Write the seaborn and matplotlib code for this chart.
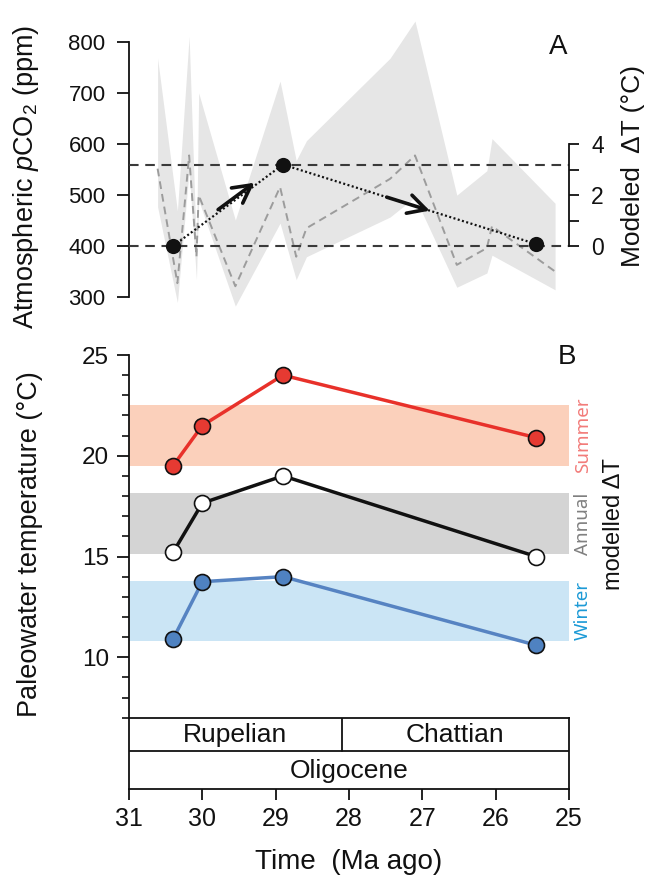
import numpy as np
import pandas as pd
import matplotlib
matplotlib.use("Agg")
import matplotlib.pyplot as plt
import matplotlib.transforms as mtransforms
import seaborn as sns

# ---------------- data ----------------
# Panel A: proxy CO2 envelope (ppm) vs age (Ma)
co2_age = [30.61, 30.34, 30.18, 30.08, 30.05, 29.55, 28.94, 28.72, 28.58, 27.44, 27.10, 26.53, 26.12, 26.05, 25.19]
co2_median = [552, 327, 578, 379, 500, 321, 516, 379, 435, 532, 578, 363, 396, 439, 350]
co2_upper = [769, 469, 812, 392, 701, 451, 724, 568, 607, 769, 842, 500, 548, 611, 484]
co2_lower = [477, 289, 548, 334, 490, 282, 445, 334, 379, 457, 496, 319, 347, 382, 314]

# Modeled CO2 scenario points
model_age = [30.4, 28.9, 25.45]
model_co2 = [400, 560, 404]

# Panel B: paleowater temperatures
ages_b = [30.4, 30.0, 28.9, 25.45]
summer = [19.5, 21.5, 24.0, 20.9]
annual = [15.2, 17.65, 19.0, 15.0]
winter = [10.9, 13.75, 14.0, 10.6]

# modelled delta-T ranges
summer_band = (19.5, 22.5)
annual_band = (15.1, 18.15)
winter_band = (10.8, 13.8)
band_labels = ["Summer", "Annual", "Winter"]

# stratigraphy
stage_names = ["Rupelian", "Chattian"]
stage_bounds = [31.0, 28.1, 25.0]
epoch_name = "Oligocene"

x_ticks = [31, 30, 29, 28, 27, 26, 25]
co2_ticks = [300, 400, 500, 600, 700, 800]
dT_ticks = [0, 1, 2, 3, 4]
dT_ticklabels = ["0", "", "2", "", "4"]
temp_major = [10, 15, 20, 25]

# ---------------- style ----------------
sns.set_theme(style="ticks")
plt.rcParams["font.family"] = ["Liberation Sans", "DejaVu Sans"]
plt.rcParams["mathtext.fontset"] = "custom"
plt.rcParams["mathtext.rm"] = "Liberation Sans"
plt.rcParams["mathtext.it"] = "Liberation Sans:italic"
plt.rcParams["axes.linewidth"] = 1.3
plt.rcParams["axes.edgecolor"] = "#111111"

W, H = 648, 881
fig = plt.figure(figsize=(W / 100, H / 100), dpi=100)


def rect(l, t, r, b):
    return [l / W, 1 - b / H, (r - l) / W, (b - t) / H]


# ---------------- Panel A ----------------
ax_a = fig.add_axes(rect(129, 17, 569, 312.2))
ax_a.set_xlim(31, 25)
ax_a.set_ylim(270, 850)
ax_a.patch.set_alpha(0)

ax_a.fill_between(co2_age, co2_lower, co2_upper, color="#E6E6E6", lw=0, zorder=1)
dfm = pd.DataFrame({"age": co2_age, "co2": co2_median})
sns.lineplot(data=dfm, x="age", y="co2", ax=ax_a, sort=False, color="#9C9C9C",
             lw=1.4, zorder=2)
ax_a.lines[-1].set_dashes((4, 2.6))

for v in (model_co2[0], model_co2[1]):
    ax_a.axhline(v, color="#3A3A3A", lw=1.5, dashes=(4.6, 3.2), zorder=3)

dfp = pd.DataFrame({"age": model_age, "co2": model_co2})
sns.lineplot(data=dfp, x="age", y="co2", ax=ax_a, sort=False, color="#111111",
             lw=1.6, zorder=4)
ax_a.lines[-1].set_dashes((0.9, 1.1))
sns.scatterplot(data=dfp, x="age", y="co2", ax=ax_a, color="#111111", s=120,
                edgecolor="#111111", linewidth=0, zorder=5)


def seg_point(i, f, dy=0.0):
    x = model_age[i] + f * (model_age[i + 1] - model_age[i])
    y = model_co2[i] + f * (model_co2[i + 1] - model_co2[i]) + dy
    return x, y


for i, f0, f1, dy in [(0, 0.41, 0.74, 6), (1, 0.41, 0.58, 0)]:
    p0 = seg_point(i, f0, dy)
    p1 = seg_point(i, f1, dy)
    ax_a.annotate("", xy=p1, xytext=p0,
                  arrowprops=dict(arrowstyle="->,head_length=0.75,head_width=0.4",
                                  lw=2.6, color="#111111", mutation_scale=17,
                                  shrinkA=0, shrinkB=0), zorder=6)

for s in ("top", "right", "bottom"):
    ax_a.spines[s].set_visible(False)
ax_a.spines["left"].set_bounds(300, 800)
ax_a.set_yticks(co2_ticks)
ax_a.set_xticks([])
ax_a.tick_params(axis="y", direction="out", length=8.4, width=1.3, labelsize=16,
                 pad=8.5, colors="#111111")
ax_a.set_xlabel("")
ax_a.set_ylabel("")

ax_r = ax_a.twinx()
ax_r.set_ylim((270 - 400) / 50, (850 - 400) / 50)
for s in ("top", "left", "bottom"):
    ax_r.spines[s].set_visible(False)
ax_r.spines["right"].set_bounds(0, 4)
ax_r.set_yticks(dT_ticks)
ax_r.set_yticklabels(dT_ticklabels)
ax_r.tick_params(axis="y", direction="out", length=7, width=1.3, labelsize=16.5,
                 pad=9, colors="#111111")

fig.text(26 / W, 1 - 177 / H, r"Atmospheric $\mathit{p}$CO$_2$ (ppm)", rotation=90,
         ha="center", va="center", fontsize=19.5, color="#111111")
fig.text(633 / W, 1 - 166 / H, "Modeled  ΔT (°C)", rotation=90,
         ha="center", va="center", fontsize=19, color="#111111")
fig.text(558 / W, 1 - 47 / H, "A", ha="center", va="center", fontsize=20, color="#111111")

# ---------------- Panel B ----------------
ax_b = fig.add_axes(rect(129, 355, 569, 717.7))
ax_b.set_xlim(31, 25)
ax_b.set_ylim(7, 25)

band_colors = ["#FBD0BB", "#D4D4D4", "#CBE5F5"]
text_colors = ["#F27B79", "#808080", "#1C9AD6"]
for band, c in zip([summer_band, annual_band, winter_band], band_colors):
    ax_b.axhspan(band[0], band[1], color=c, lw=0, zorder=1)

series = [
    (summer, "#E8312A", "#E63A32"),
    (annual, "#111111", "#FFFFFF"),
    (winter, "#5683C2", "#4F82C1"),
]
for vals, lc, fc in series:
    df = pd.DataFrame({"age": ages_b, "temp": vals})
    sns.lineplot(data=df, x="age", y="temp", ax=ax_b, sort=False, color=lc, lw=2.5,
                 marker="o", markersize=11.5, markerfacecolor=fc,
                 markeredgecolor="#111111", markeredgewidth=1.2, zorder=3)

trans = mtransforms.blended_transform_factory(ax_b.transAxes, ax_b.transData)
for band, lab, tc in zip([summer_band, annual_band, winter_band], band_labels, text_colors):
    ax_b.text(1.032, (band[0] + band[1]) / 2, lab, transform=trans, rotation=90,
              ha="center", va="center", fontsize=13.5, color=tc,
              family=["Noto Sans", "Liberation Sans"])
ax_b.text(1.102, (annual_band[0] + annual_band[1]) / 2, "modelled ΔT", transform=trans,
          rotation=90, ha="center", va="center", fontsize=17, color="#111111")

for s in ("top", "right", "bottom"):
    ax_b.spines[s].set_visible(False)
ax_b.set_yticks(temp_major)
ax_b.set_yticks(np.arange(7, 26, 1), minor=True)
ax_b.set_xticks([])
ax_b.tick_params(axis="y", which="major", direction="out", length=8.4, width=1.3,
                 labelsize=17.5, pad=6, colors="#111111")
ax_b.tick_params(axis="y", which="minor", direction="out", length=5, width=1.2,
                 colors="#111111")
ax_b.set_xlabel("")
ax_b.set_ylabel("")

fig.text(30 / W, 1 - 544 / H, "Paleowater temperature (°C)", rotation=90,
         ha="center", va="center", fontsize=19.5, color="#111111")
fig.text(567 / W, 1 - 357 / H, "B", ha="center", va="center", fontsize=20, color="#111111")

# ---------------- stratigraphy box / time axis ----------------
ax_s = fig.add_axes(rect(129, 717.7, 569, 789))
ax_s.set_xlim(31, 25)
ax_s.set_ylim(0, 1)
ax_s.patch.set_alpha(0)
for s in ax_s.spines.values():
    s.set_linewidth(1.3)
mid = 0.53
ax_s.axhline(mid, color="#111111", lw=1.3)
ax_s.plot([stage_bounds[1], stage_bounds[1]], [mid, 1], color="#111111", lw=1.3)
for k, name in enumerate(stage_names):
    ax_s.text((stage_bounds[k] + stage_bounds[k + 1]) / 2, (mid + 1) / 2 - 0.01, name,
              ha="center", va="center", fontsize=19, color="#111111")
ax_s.text((stage_bounds[0] + stage_bounds[-1]) / 2, mid / 2 - 0.01, epoch_name,
          ha="center", va="center", fontsize=19, color="#111111")
ax_s.set_yticks([])
ax_s.set_xticks(x_ticks)
ax_s.set_xticklabels([str(t) for t in x_ticks])
ax_s.tick_params(axis="x", direction="out", length=8, width=1.3, labelsize=18,
                 pad=5, colors="#111111")

fig.text(349 / W, 1 - 862 / H, "Time  (Ma ago)", ha="center", va="center",
         fontsize=20, color="#111111")

fig.savefig("out.png", dpi=100)
